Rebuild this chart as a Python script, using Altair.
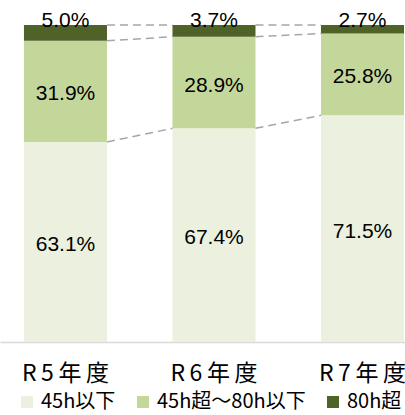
import altair as alt
import pandas as pd

years = ["R5年度", "R6年度", "R7年度"]
categories = ["45h以下", "45h超〜80h以下", "80h超"]
low = [63.1, 67.4, 71.5]
mid = [31.9, 28.9, 25.8]
high = [5.0, 3.7, 2.7]
colors = ["#EBF1DE", "#C4D79B", "#4F6228"]

rows = []
for i, y in enumerate(years):
    for k, (c, v) in enumerate(zip(categories, [low[i], mid[i], high[i]])):
        rows.append({"year": y, "cat": c, "value": v, "order": k})
df = pd.DataFrame(rows)

lines = []
for i in range(len(years) - 1):
    b1 = [100.0, low[i] + mid[i], low[i]]
    b2 = [100.0, low[i + 1] + mid[i + 1], low[i + 1]]
    for a, b in zip(b1, b2):
        lines.append({"from": years[i], "to": years[i + 1], "y1": a, "y2": b})
ldf = pd.DataFrame(lines)

FONT = "Noto Sans CJK JP"
NUMFONT = "Liberation Sans"

xscale = alt.Scale(domain=years, paddingInner=0.441, paddingOuter=0.084, align=0.96)
yscale = alt.Scale(domain=[0, 100], nice=False)

base = alt.Chart(df)

bars = base.mark_bar().encode(
    x=alt.X("year:N", scale=xscale, sort=years, title=None,
            axis=alt.Axis(labelAngle=0, domainColor="#D9D9D9", domainWidth=1.5,
                          ticks=False, labelFont=FONT, labelFontSize=23,
                          labelColor="#000000", labelPadding=20, labelBaseline="top",
                          labelExpr="join(split(datum.label, ''), '\u2009')")),
    y=alt.Y("value:Q", stack="zero", scale=yscale, axis=None),
    order=alt.Order("order:Q"),
    color=alt.Color("cat:N", scale=alt.Scale(domain=categories, range=colors), sort=categories,
                    legend=alt.Legend(title=None, orient="none", direction="horizontal",
                                      legendX=17, legendY=367, symbolType="square",
                                      symbolSize=144, symbolStrokeWidth=0, symbolOpacity=1,
                                      labelFont=FONT, labelFontSize=20, labelColor="#000000",
                                      columnPadding=17, labelOffset=4, labelLimit=300,
                                      padding=0)),
)

stacked = base.transform_stack(
    stack="value", groupby=["year"], as_=["y0", "y1"], sort=[alt.SortField("order")]
).transform_calculate(
    ypos="datum.cat == '80h超' ? 100 : (datum.y0 + datum.y1) / 2",
    label="format(datum.value, '.1f') + '%'",
)

labels_main = stacked.transform_filter("datum.cat != '80h超'").mark_text(
    font=NUMFONT, fontSize=21, color="#000000", baseline="middle", dy=3
).encode(
    x=alt.X("year:N", scale=xscale, sort=years),
    y=alt.Y("ypos:Q", scale=yscale),
    text="label:N",
)

labels_top = stacked.transform_filter("datum.cat == '80h超'").mark_text(
    font=NUMFONT, fontSize=21, color="#000000", baseline="middle", dy=-4
).encode(
    x=alt.X("year:N", scale=xscale, sort=years),
    y=alt.Y("ypos:Q", scale=yscale),
    text="label:N",
)

conn = alt.Chart(ldf).mark_rule(color="#A6A6A6", strokeDash=[8, 5], strokeWidth=1.5).encode(
    x=alt.X("from:N", scale=xscale, sort=years, bandPosition=1),
    x2=alt.X2("to:N", bandPosition=0),
    y=alt.Y("y1:Q", scale=yscale),
    y2=alt.Y2("y2:Q"),
)

chart = alt.layer(bars, conn, labels_main, labels_top).properties(
    width=405, height=317,
    padding={"left": 0, "top": 25, "right": 0, "bottom": 73},
    autosize=alt.AutoSizeParams(type="none"),
).configure_view(stroke=None)

chart.save("out.html", embed_options={"renderer": "svg", "actions": False})
